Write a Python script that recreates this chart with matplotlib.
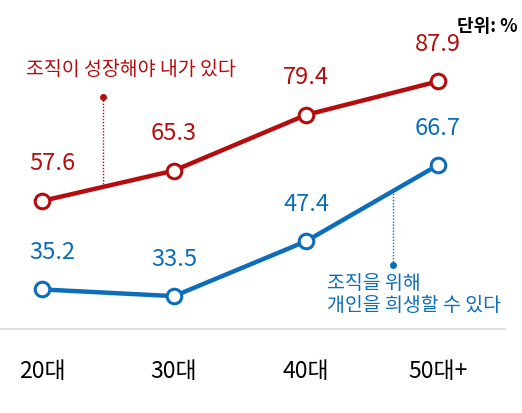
import matplotlib
matplotlib.use("Agg")
import matplotlib.pyplot as plt

plt.rcParams['font.family'] = ['Noto Sans CJK KR', 'DejaVu Sans']

ages = ['20대', '30대', '40대', '50대+']
grow = [57.6, 65.3, 79.4, 87.9]       # 조직이 성장해야 내가 있다
sacrifice = [35.2, 33.5, 47.4, 66.7]  # 조직을 위해 개인을 희생할 수 있다

red = '#b50d0d'
blue = '#0c6dbb'

fig = plt.figure(figsize=(5.22, 4.13), dpi=100)
ax = fig.add_axes([0, 0, 1, 1])
ax.set_xlim(-0.318, 3.636)
ax.set_ylim(3.9, 108.5)
ax.axis('off')

x = list(range(len(ages)))

# baseline
ax.plot([-0.318, 3.508], [25.2, 25.2], color='#d9d9d9', lw=1.2, zorder=1)

for vals, c in [(grow, red), (sacrifice, blue)]:
	ax.plot(x, vals, color=c, lw=3.2, marker='o', markersize=10.5,
			markerfacecolor='white', markeredgecolor=c, markeredgewidth=2.2,
			zorder=3)
	for xi, v in zip(x, vals):
		dx = 10 if xi == 0 else 0   # first label pushed in from the edge
		ax.annotate(f'{v:.1f}', (xi, v), xytext=(dx, 37), textcoords='offset pixels',
					ha='center', va='center', color=c, fontsize=17, weight=500)

# annotation: red
ax.plot([0.462, 0.462], [61.2, 83.9], color=red, lw=1, ls=(0, (1, 1.2)), zorder=2)
ax.plot([0.462], [83.9], 'o', color=red, markersize=4, zorder=2)
ax.text(0.674, 90.8, '조직이 성장해야 내가 있다', ha='center', va='center',
		color=red, fontsize=14, weight=500)

# annotation: blue
ax.plot([2.659, 2.659], [41.4, 60.1], color=blue, lw=1, ls=(0, (1, 1.2)), zorder=2)
ax.plot([2.659], [41.4], 'o', color=blue, markersize=4, zorder=2)
ax.text(2.159, 36.6, '조직을 위해', ha='left', va='center', color=blue,
		fontsize=14, weight=500)
ax.text(2.159, 31.0, '개인을 희생할 수 있다', ha='left', va='center', color=blue,
		fontsize=14, weight=500)

# x labels
for xi, lab in zip(x, ages):
	ax.text(xi, 14.3, lab, ha='center', va='center', color='black', fontsize=16.5,
			weight=500)

ax.text(3.604, 101.8, '단위: %', ha='right', va='center', color='black', fontsize=13,
		weight='bold')

fig.savefig('out.png', dpi=100)
